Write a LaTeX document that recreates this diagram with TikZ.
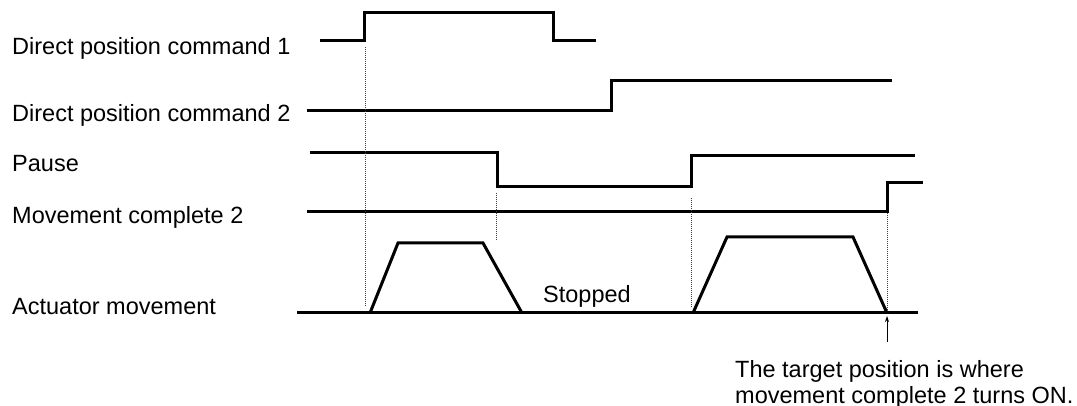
\documentclass[tikz,border=0pt]{standalone}
\usepackage{fontspec}
\setmainfont{Liberation Sans}
\usetikzlibrary{arrows.meta}

\begin{document}
\begin{tikzpicture}[
  x=1pt, y=-1pt, >={Stealth[length=6pt,width=4pt]},
  sig/.style={line width=3pt, line join=miter},
  guide/.style={line width=0.9pt, dash pattern=on 1pt off 1pt, black!75},
  lbl/.style={anchor=base west, inner sep=0pt, font=\fontsize{23.5}{26}\selectfont},
]
\useasboundingbox (0,0) rectangle (1077,406);

% signal names
\node[lbl] (cmd1) at (12,55) {Direct position command 1};
\node[lbl] (cmd2) at (12,122) {Direct position command 2};
\node[lbl] (pause) at (12,172) {Pause};
\node[lbl] (done2) at (12,224) {Movement complete 2};
\node[lbl] (move) at (12,314) {Actuator movement};

% waveforms
\draw[sig] (320,41) -- (364,41) -- (364,13) -- (553,13) -- (553,41) -- (596,41);
\draw[sig] (307,111) -- (611,111) -- (611,81) -- (892,81);
\draw[sig] (310,153) -- (497,153) -- (497,187) -- (691,187) -- (691,156) -- (915,156);
\draw[sig] (307,212) -- (887,212) -- (887,183) -- (923,183);
\draw[sig] (297,313) -- (918,313);
\draw[sig] (370,313) -- (398,243) -- (483,243) -- (522,313);
\draw[sig] (693,313) -- (727,237) -- (853,237) -- (887,313);

% timing guides
\draw[guide] (365,47) -- (365,307);
\draw[guide] (496,193) -- (496,240);
\draw[guide] (691,198) -- (691,307);
\draw[guide] (887,213) -- (887,310);

\node[lbl] (stopped) at (543,302) {Stopped};

% target note
\coordinate (tgt) at (887,316);
\coordinate (tail) at (887,342);
\draw[->, line width=0.9pt] (tail) -- (tgt);
\node[lbl, anchor=north west, align=left] (note) at (735,360)
  {The target position is where\\movement complete 2 turns ON.};
\end{tikzpicture}
\end{document}
